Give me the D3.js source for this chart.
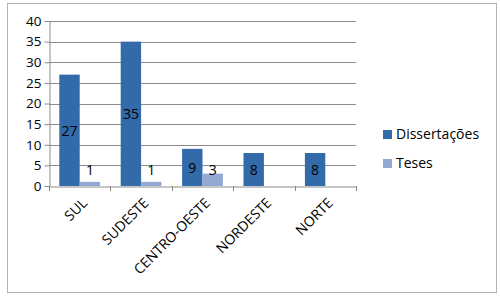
<!DOCTYPE html>
<html>
<head>
<meta charset="utf-8">
<script src="https://cdn.jsdelivr.net/npm/d3@7"></script>
<style>
  body { margin: 0; background: #fff; }
  text { font-family: "Open Sans", "DejaVu Sans", sans-serif; fill: #000; }
</style>
</head>
<body>
<div id="chart"></div>
<script>
// data
var regions = ["SUL", "SUDESTE", "CENTRO-OESTE", "NORDESTE", "NORTE"];
var dissertacoes = [27, 35, 9, 8, 8];
var teses = [1, 1, 3, null, null];
var seriesNames = ["Dissertações", "Teses"];
var yTicks = [0, 5, 10, 15, 20, 25, 30, 35, 40];
var colors = ["#336aa9", "#93a9d3"];

var W = 500, H = 297;
var margin = { top: 21, right: 144, bottom: 111, left: 49 };
var width = 356 - margin.left;
var height = 186 - margin.top;

var svg = d3.select("#chart")
  .append("svg")
    .attr("width", W)
    .attr("height", H);

// outer border of the chart
svg.append("rect")
  .attr("x", 7.5).attr("y", 3.5)
  .attr("width", 489).attr("height", 289)
  .attr("fill", "#fff")
  .attr("stroke", "#b3b3b3");

var g = svg.append("g")
  .attr("transform", `translate(${margin.left},${margin.top})`);

var x = d3.scaleBand()
  .domain(regions)
  .range([0, width])
  .paddingInner(0)
  .paddingOuter(0);

var inner = d3.scaleBand()
  .domain([0, 1])
  .range([10.3, x.bandwidth() - 10.3]);

var y = d3.scaleLinear()
  .domain([0, 40])
  .range([height, 0]);

// gridlines
g.selectAll(".grid")
  .data(yTicks.slice(1))
  .enter().append("line")
    .attr("x1", 0).attr("x2", width)
    .attr("y1", d => Math.round(y(d)) + 0.5)
    .attr("y2", d => Math.round(y(d)) + 0.5)
    .attr("stroke", "#8c8c8c")
    .attr("stroke-width", 1);

// y axis
var yAxis = g.append("g")
  .attr("transform", "translate(0.5,0)")
  .call(d3.axisLeft(y).tickValues(yTicks).tickSize(5).tickSizeOuter(0));
yAxis.select(".domain").attr("stroke", "#8c8c8c");
yAxis.selectAll(".tick line").attr("stroke", "#8c8c8c");
yAxis.selectAll(".tick text")
  .attr("x", -8)
  .style("font-size", "13.5px");

// bars
var series = [dissertacoes, teses];
series.forEach(function(vals, si) {
  var data = regions.map((r, i) => ({ r: r, v: vals[i] })).filter(d => d.v != null);
  g.selectAll(".bar" + si)
    .data(data)
    .enter().append("rect")
      .attr("x", d => x(d.r) + inner(si))
      .attr("y", d => y(d.v))
      .attr("width", inner.bandwidth())
      .attr("height", d => height - y(d.v))
      .attr("fill", colors[si]);

  g.selectAll(".lab" + si)
    .data(data)
    .enter().append("text")
      .attr("x", d => x(d.r) + inner(si) + inner.bandwidth() / 2)
      .attr("y", d => y(Math.max(d.v / 2, 4)))
      .attr("dy", "0.4em")
      .attr("text-anchor", "middle")
      .style("font-size", "14px")
      .text(d => d.v);
});

// x axis
var xAxis = g.append("g")
  .attr("transform", `translate(0,${Math.round(height) + 0.5})`)
  .call(d3.axisBottom(x).tickSize(0).tickSizeOuter(0));
xAxis.select(".domain").attr("stroke", "#8c8c8c");
xAxis.selectAll(".tick text")
  .attr("text-anchor", "end")
  .attr("transform", "translate(5,14) rotate(-45)")
  .attr("y", 0).attr("dy", "0.35em")
  .style("font-size", "14px");

// category separator ticks
g.selectAll(".xtick")
  .data(d3.range(regions.length + 1))
  .enter().append("line")
    .attr("x1", i => Math.round(i * x.bandwidth()) + 0.5)
    .attr("x2", i => Math.round(i * x.bandwidth()) + 0.5)
    .attr("y1", height)
    .attr("y2", height + 5)
    .attr("stroke", "#8c8c8c");

// legend
var legend = svg.append("g")
  .attr("transform", "translate(383,130)");
seriesNames.forEach(function(name, i) {
  legend.append("rect")
    .attr("x", 0).attr("y", i * 29)
    .attr("width", 9).attr("height", 9)
    .attr("fill", colors[i]);
  legend.append("text")
    .attr("x", 13).attr("y", i * 29 + 4.5)
    .attr("dy", "0.35em")
    .style("font-size", "14px")
    .text(name);
});
</script>
</body>
</html>
